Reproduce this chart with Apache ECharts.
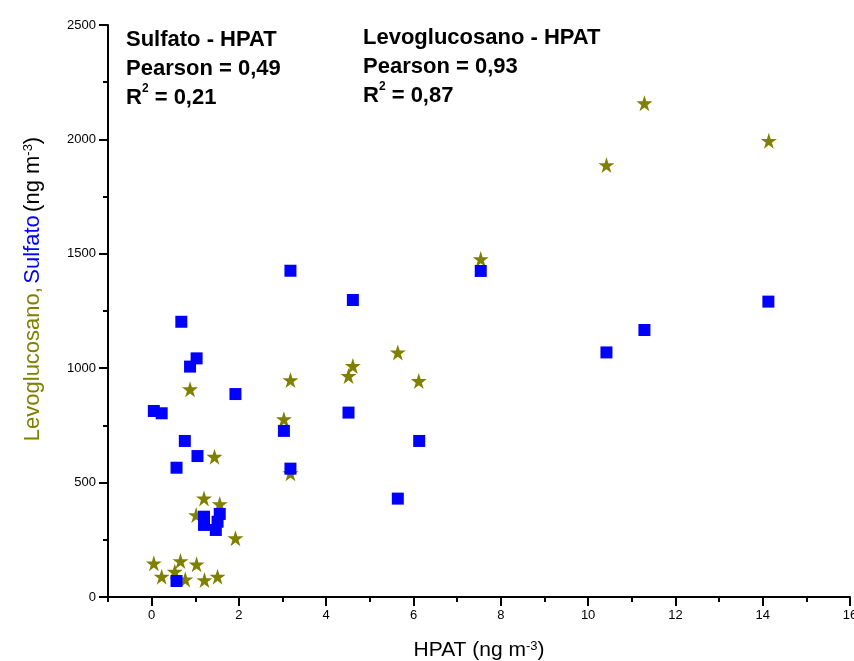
<!DOCTYPE html>
<html><head><meta charset="utf-8">
<script src="https://cdn.jsdelivr.net/npm/echarts@6/dist/echarts.min.js"></script>
<style>html,body{margin:0;padding:0;background:#fff}#c{width:854px;height:661px}</style>
</head><body><div id="c"></div>
<script>
// HPAT (x) and Levoglucosano (y) pairs
const hpatLevo = [0.05,0.23,0.53,0.66,0.77,0.88,1.02,1.03,1.20,1.21,1.44,1.51,1.56,1.92,3.03,3.18,3.18,4.51,4.61,5.64,6.12,7.54,10.42,11.29,14.14];
const levoglucosano = [147,89,111,157,77,908,358,143,431,74,613,89,406,257,777,948,541,966,1010,1069,944,1477,1888,2158,1994];
// HPAT (x) and Sulfato (y) pairs
const hpatSulf = [0.05,0.23,0.57,0.57,0.68,0.76,0.88,1.03,1.05,1.20,1.20,1.47,1.51,1.56,1.92,3.03,3.18,3.18,4.51,4.61,5.64,6.13,7.54,10.42,11.29,14.13];
const sulfato = [813,803,565,70,1203,682,1007,1043,616,351,315,293,329,363,887,726,1426,561,806,1298,430,682,1425,1069,1167,1291];
const xTicks = ['-1','0','1','2','3','4','5','6','7','8','9','10','11','12','13','14','15','16'];
const annLeft = ['Sulfato - HPAT','Pearson = 0,49','R{sup|2} = 0,21'];
const annRight = ['Levoglucosano - HPAT','Pearson = 0,93','R{sup|2} = 0,87'];

const FONT = "'Liberation Sans Narrow','Liberation Sans',Arial,sans-serif";
const STAR = 'path://M100,0 L122.45,69.1 L195.1,69.1 L136.3,111.8 L158.8,180.9 L100,138.2 L41.2,180.9 L63.7,111.8 L4.9,69.1 L77.55,69.1 Z';

const chart = echarts.init(document.getElementById('c'), null, {renderer:'canvas'});
const zip = (a,b)=>a.map((v,i)=>[v,b[i]]);
const annStyle = (t)=>({
  text: t.join('\n'), fill:'#000', font: "bold 22px " + FONT, lineHeight: 29,
  rich: { sup: { fontSize: 12, fontWeight:'bold', fontFamily: FONT, verticalAlign:'top', lineHeight: 29, padding:[0,0,10,0] } }
});
chart.setOption({
  animation:false,
  backgroundColor:'#fff',
  grid:{left:108, right:4, top:25, bottom:64, outerBoundsMode:'none', containLabel:false},
  xAxis:[{
    type:'value', min:-1, max:16, interval:1,
    axisLine:{show:true, onZero:false, lineStyle:{color:'#000', width:2}},
    axisTick:{show:true, length:5, lineStyle:{color:'#000', width:2}},
    axisLabel:{show:false}, splitLine:{show:false},
    name:'HPAT (ng m{sup|-3})', nameLocation:'middle', nameGap:43,
    nameTextStyle:{fontSize:21, fontFamily:FONT, color:'#000',
      rich:{sup:{fontSize:13, fontFamily:FONT, color:'#000', verticalAlign:'top', padding:[0,0,8,0]}}}
  },{
    type:'category', data:xTicks, boundaryGap:false, position:'bottom',
    axisLine:{show:false},
    axisTick:{show:true, length:9, interval:(i,v)=>Number(v)%2===0 && Number(v)>=0, lineStyle:{color:'#000', width:2}},
    axisLabel:{show:true, margin:12, fontSize:13, fontFamily:FONT, color:'#000',
      interval:(i,v)=>Number(v)%2===0 && Number(v)>=0},
    splitLine:{show:false}
  }],
  yAxis:{
    type:'value', min:0, max:2500, interval:500,
    axisLine:{show:true, onZero:false, lineStyle:{color:'#000', width:2}},
    axisTick:{show:true, length:9, lineStyle:{color:'#000', width:2}},
    minorTick:{show:true, splitNumber:2, length:5, lineStyle:{color:'#000', width:2}},
    axisLabel:{margin:12, fontSize:13, fontFamily:FONT, color:'#000', formatter:(v)=>String(v)},
    splitLine:{show:false}, minorSplitLine:{show:false}
  },
  series:[{
    name:'Levoglucosano', type:'scatter', xAxisIndex:0, data:zip(hpatLevo, levoglucosano),
    symbol:STAR, symbolSize:16, itemStyle:{color:'#808000', opacity:1}, z:2
  },{
    name:'Sulfato', type:'scatter', xAxisIndex:0, data:zip(hpatSulf, sulfato),
    symbol:'rect', symbolSize:12, itemStyle:{color:'#0000ff', opacity:1}, z:3
  }],
  graphic:[
    {type:'text', left:126, top:25, style:annStyle(annLeft)},
    {type:'text', left:363, top:23, style:annStyle(annRight)},
    {type:'text', x:33, y:289, rotation:Math.PI/2,
      style:{
        text:'{o|Levoglucosano,} {b|Sulfato} {k|(ng m}{s|-3}{k|)}',
        align:'center', verticalAlign:'middle',
        rich:{
          o:{fill:'#808000', fontSize:22, fontFamily:FONT},
          b:{fill:'#0000ff', fontSize:22, fontFamily:FONT},
          k:{fill:'#000', fontSize:22, fontFamily:FONT},
          s:{fill:'#000', fontSize:13, fontFamily:FONT, verticalAlign:'top', padding:[0,0,9,0]}
        }
      }}
  ]
});
</script></body></html>
